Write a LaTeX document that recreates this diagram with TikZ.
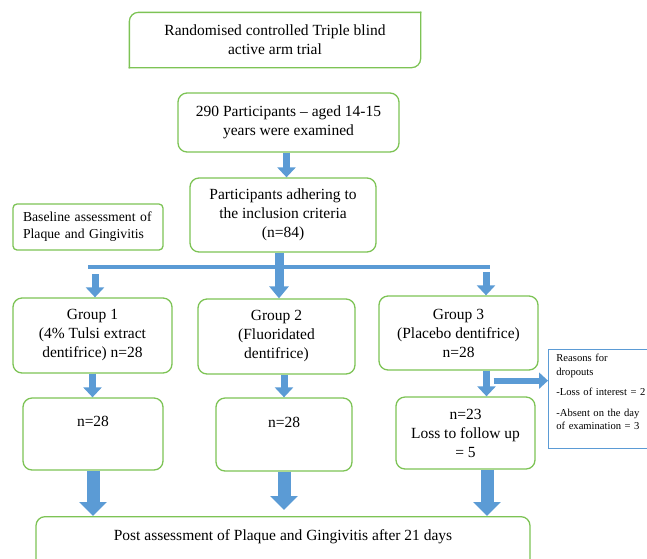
\documentclass[tikz,border=0pt]{standalone}
\usepackage{fontspec}
\setmainfont{Liberation Serif}
\usetikzlibrary{arrows.meta}
\definecolor{boxgreen}{RGB}{125,195,85}
\definecolor{arrowblue}{RGB}{91,155,213}
\newcommand{\mainsize}{\fontsize{15.5}{19}\selectfont}
\newcommand{\basesize}{\fontsize{13.7}{17}\selectfont}
\newcommand{\notesize}{\fontsize{10.6}{13.5}\selectfont}
\tikzset{
	box/.style={draw=boxgreen, line width=1.3pt, rounded corners=9pt, align=center, inner sep=2pt, font=\mainsize},
	note/.style={draw=arrowblue, line width=0.8pt, align=left, font=\notesize, inner xsep=8pt, inner ysep=5pt},
	bar/.style={draw=arrowblue, line width=4pt},
	smallarrow/.style={draw=arrowblue, line width=7pt, -{Triangle[width=18pt,length=10pt]}},
	midarrow/.style={draw=arrowblue, line width=9pt, -{Triangle[width=19pt,length=12pt]}},
	sidearrow/.style={draw=arrowblue, line width=6pt, -{Triangle[width=16pt,length=9pt]}},
	bigarrow/.style={draw=arrowblue, line width=13pt, -{Triangle[width=27pt,length=14pt]}},
}

\begin{document}
\begin{tikzpicture}[x=1pt,y=-1pt]
		%%%%% START %%%%%
		\useasboundingbox (0,0) rectangle (647,558);
		
		\node[box, draw=none, minimum width=290pt, minimum height=54pt] (trial) at (275,40) {Randomised controlled Triple blind\\active arm trial};
		\draw[boxgreen, line width=1.3pt, line cap=rect, rounded corners=9pt] (trial.south west) -- (trial.north west) -- (trial.north east);
		\draw[boxgreen, line width=1.3pt, line cap=rect, rounded corners=9pt] (trial.north east) -- (trial.south east) -- (trial.south west);
		
		\node[box, minimum width=221pt, minimum height=59pt] (exam) at (288.5,122.5) {290 Participants -- aged 14-15\\years were examined};
		\node[box, minimum width=186pt, minimum height=74pt] (incl) at (283,215) {Participants adhering to\\the inclusion criteria\\(n=84)};
		\node[box, rounded corners=4pt, font=\basesize, align=left, text width=130pt, inner xsep=10pt, minimum height=46pt] (base) at (88,227) {Baseline assessment of\\Plaque and Gingivitis};
		
		\node[box, minimum width=159pt, minimum height=75pt] (grpA) at (92.5,335.5) {Group 1\\(4\% Tulsi extract\\dentifrice) n=28};
		\node[box, minimum width=157pt, minimum height=75pt] (grpB) at (276.5,336.5) {Group 2\\(Fluoridated\\dentifrice)};
		\node[box, minimum width=159pt, minimum height=74pt] (grpC) at (458.5,333) {Group 3\\(Placebo dentifrice)\\n=28};
		
		\node[box, minimum width=140pt, minimum height=72pt, text depth=25pt] (endA) at (93,434) {n=28};
		\node[box, minimum width=136pt, minimum height=73pt, text depth=25pt] (endB) at (284,434.5) {n=28};
		\node[box, minimum width=139pt, minimum height=72pt] (endC) at (465.5,433) {n=23\\Loss to follow up\\= 5};
		
		\node[note, anchor=north west, text width=110pt] (reasons) at (548,349) {Reasons for\\dropouts\\[7pt]-Loss of interest = 2\\[7pt]-Absent on the day\\of examination = 3\\\mbox{}};
		
		\node[box, anchor=north, minimum width=494pt, minimum height=60pt, text depth=23.5pt] (post) at (283,516) {Post assessment of Plaque and Gingivitis after 21 days};
		
		% arrows
		\coordinate (down) at ([xshift=-2pt]exam.south);
		\draw[smallarrow] (down) -- (down |- incl.north);
		
		\coordinate (barL) at (88,267);
		\coordinate (barR) at (490,267);
		\draw[bar] (barL) -- (barR);
		\coordinate (stem) at ([xshift=-4pt]incl.south);
		\draw[midarrow] (stem) -- (stem |- grpB.north);
		\coordinate (forkA) at ([xshift=7pt,yshift=-7pt]barL);
		\coordinate (forkC) at ([xshift=-4pt,yshift=-5pt]barR);
		\draw[smallarrow] (forkA) -- (forkA |- grpA.north);
		\draw[smallarrow] (forkC) -- (forkC |- grpC.north);
		
		\draw[smallarrow] (grpA.south) -- (grpA.south |- endA.north);
		\draw[smallarrow] (endB.north |- grpB.south) -- (endB.north);
		\coordinate (drop) at ([xshift=28pt]grpC.south);
		\draw[smallarrow] (drop) -- (drop |- endC.north);
		\coordinate (side) at ([xshift=7pt,yshift=-10pt]drop);
		\draw[sidearrow] (side) -- (side -| reasons.west);
		
		\draw[bigarrow] (endA.south) -- (endA.south |- post.north);
		\draw[bigarrow, shorten >=6pt] (endB.south) -- (endB.south |- post.north);
		\coordinate (lift) at ([xshift=21.5pt]endC.south);
		\draw[bigarrow] (lift) -- (lift |- post.north);
		
		%%%%% END %%%%%
	\end{tikzpicture}
\end{document}
